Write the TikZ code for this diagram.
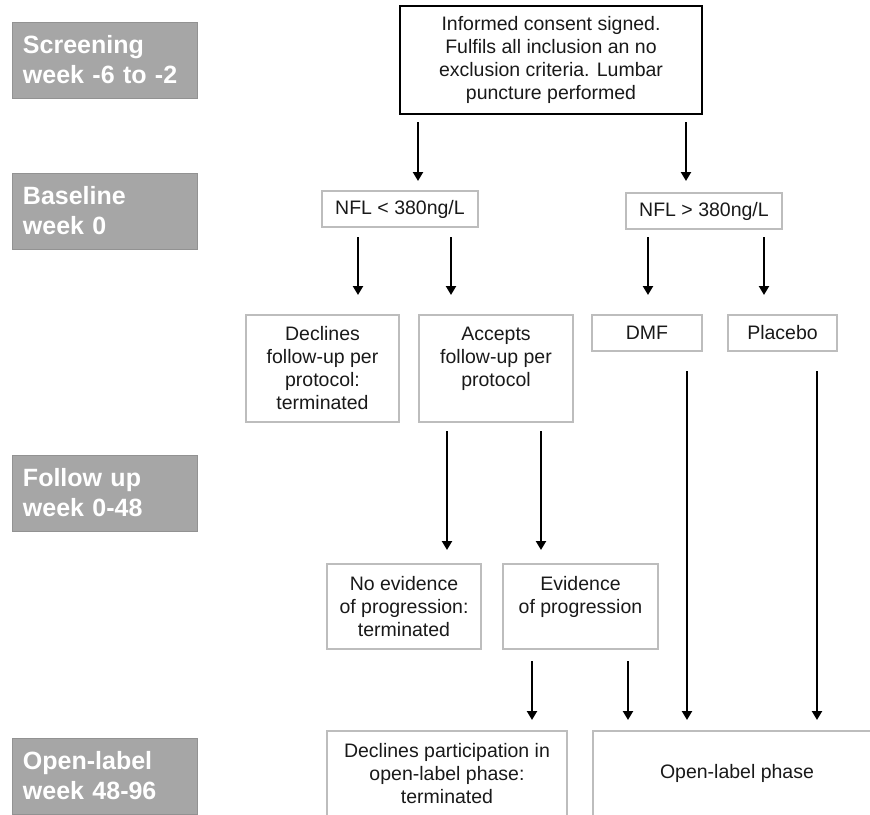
\documentclass[tikz,border=0pt]{standalone}
\usepackage{fontspec}
\setmainfont{Liberation Sans}
\usetikzlibrary{arrows.meta}
\usetikzlibrary{positioning}
\definecolor{phasegray}{HTML}{A6A6A6}
\definecolor{phaseedge}{HTML}{929292}
\definecolor{boxedge}{HTML}{BDBDBD}
\tikzset{
    phase/.style={
           rectangle,
           fill=phasegray, draw=phaseedge, line width=1pt,
           minimum width=185pt, minimum height=76pt,
           text width=163pt, inner xsep=11pt, inner ysep=0pt, outer sep=0pt,
           align=left, text=white,
           font=\fontsize{25}{30}\selectfont\bfseries,
           },
    box/.style={
           rectangle,
           draw=boxedge, line width=1.1pt,
           inner sep=0pt, outer sep=0pt,
           align=center, text=black!90,
           font=\fontsize{19.5}{23}\selectfont,
           },
    arr/.style={-{Triangle[length=9pt,width=10pt]}, line width=2.2pt},
}
\begin{document}
\begin{tikzpicture}[x=1pt,y=-1pt]
      \useasboundingbox (0,0) rectangle (870,814);
      \clip (0,0) rectangle (870,814);
      % time line on the left
      \node[phase, anchor=north west] (screening) at (12,22) {Screening\\week -6 to -2};
      \node[phase, below=75pt of screening] (baseline) {Baseline\\week 0};
      \node[phase, below=206pt of baseline] (followup) {Follow up\\week 0-48};
      \node[phase, below=207pt of followup] (openphase) {Open-label\\week 48-96};
      % flow
      \node[box, draw=black, line width=1.5pt, minimum width=302pt, minimum height=108pt, anchor=north west] (consent) at (400,6)
            {Informed consent signed.\\Fulfils all inclusion an no\\exclusion criteria. Lumbar\\puncture performed};
      \node[box, minimum width=156pt, minimum height=36pt, anchor=north west] (nfllow) at (322,191) {NFL < 380ng/L};
      \node[box, minimum width=156pt, minimum height=36pt, anchor=north west] (nflhigh) at (626,193) {NFL > 380ng/L};
      \node[box, minimum width=153pt, minimum height=107pt, anchor=north west] (declines) at (246,315)
            {Declines\\follow-up per\\protocol:\\terminated};
      \node[box, minimum width=154pt, minimum height=107pt, right=20pt of declines] (accepts)
            {Accepts\\follow-up per\\protocol\\\mbox{}};
      \node[box, minimum width=110pt, minimum height=36pt, anchor=north west] (dmf) at (592,315) {DMF};
      \node[box, minimum width=109pt, minimum height=36pt, right=26pt of dmf] (placebo) {Placebo};
      \node[box, minimum width=154pt, minimum height=85pt, anchor=north west] (noevid) at (327,564)
            {No evidence\\of progression:\\terminated};
      \node[box, minimum width=155pt, minimum height=85pt, right=22pt of noevid] (evid)
            {Evidence\\of progression\\\mbox{}};
      \node[box, minimum width=240pt, minimum height=85pt, anchor=north west] (declop) at (327,731)
            {Declines participation in\\open-label phase:\\terminated};
      \node[box, minimum width=288pt, minimum height=85pt, right=26pt of declop] (openlab) {Open-label phase};
      % arrows
      \draw[arr, shorten <=8pt, shorten >=10pt] (consent.south -| 418,0) -- (nfllow.north -| 418,0);
      \draw[arr, shorten <=8pt, shorten >=12pt] (consent.south -| 686,0) -- (nflhigh.north -| 686,0);
      \draw[arr, shorten <=10pt, shorten >=20pt] (nfllow.south -| 358,0) -- (declines.north -| 358,0);
      \draw[arr, shorten <=10pt, shorten >=20pt] (nfllow.south -| 451,0) -- (accepts.north -| 451,0);
      \draw[arr, shorten <=8pt, shorten >=20pt] (nflhigh.south -| 648,0) -- (dmf.north -| 648,0);
      \draw[arr, shorten <=8pt, shorten >=20pt] (nflhigh.south -| 764,0) -- (placebo.north -| 764,0);
      \draw[arr, shorten <=9pt, shorten >=14pt] (accepts.south -| 447,0) -- (noevid.north -| 447,0);
      \draw[arr, shorten <=9pt, shorten >=14pt] (accepts.south -| 541,0) -- (evid.north -| 541,0);
      \draw[arr, shorten <=12pt, shorten >=11pt] (evid.south -| 532,0) -- (declop.north -| 532,0);
      \draw[arr, shorten <=12pt, shorten >=11pt] (evid.south -| 628,0) -- (openlab.north -| 628,0);
      \draw[arr, shorten <=20pt, shorten >=11pt] (dmf.south -| 687,0) -- (openlab.north -| 687,0);
      \draw[arr, shorten <=20pt, shorten >=11pt] (placebo.south -| 817,0) -- (openlab.north -| 817,0);
\end{tikzpicture}
\end{document}
